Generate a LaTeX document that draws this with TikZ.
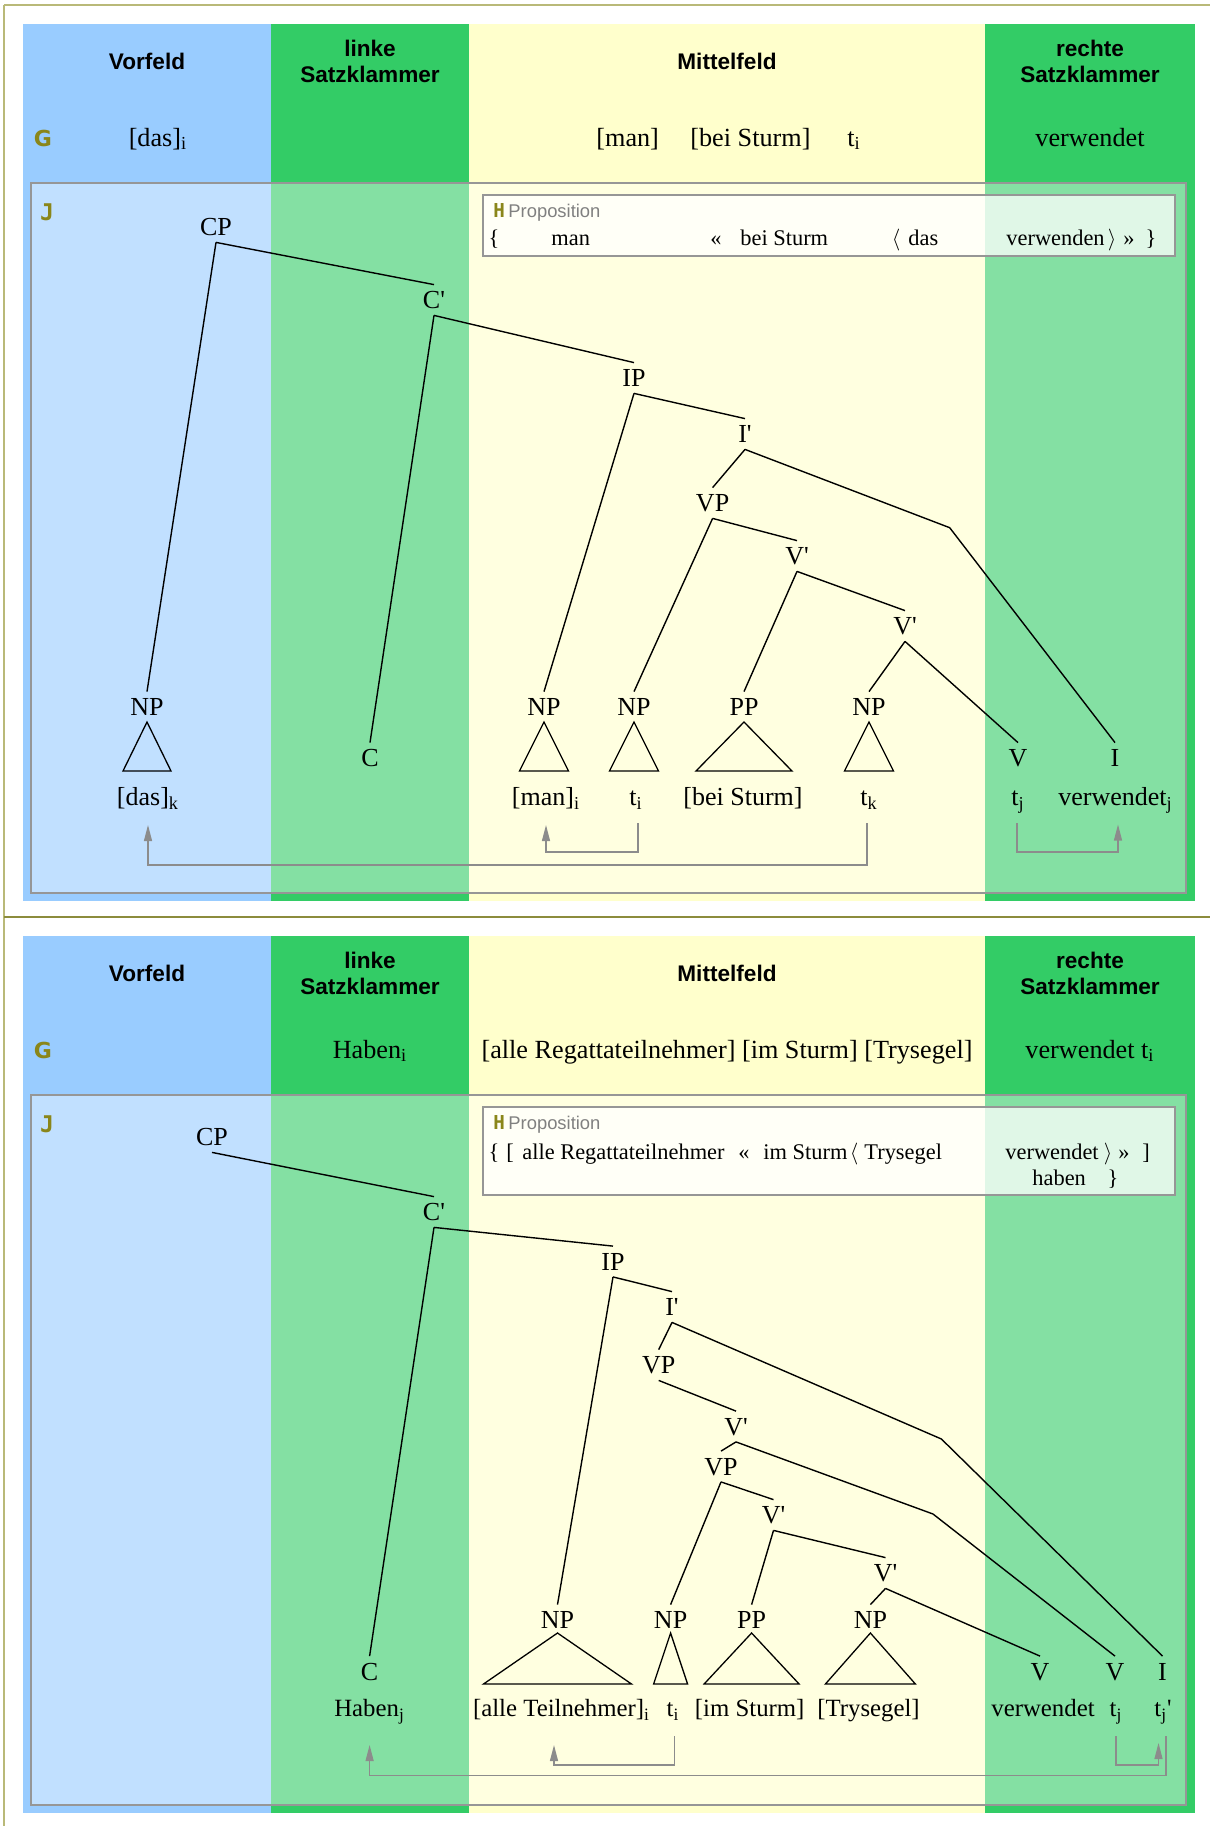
\documentclass[tikz,border=0pt]{standalone}
\usepackage{fontspec}
\setmainfont{Liberation Serif}
\newfontfamily\hdfont{Liberation Sans}
\newfontfamily\lblfont{DejaVu Sans Mono}
\newfontfamily\gfont{DejaVu Sans}
\usetikzlibrary{arrows.meta,calc}
\definecolor{vfblue}{HTML}{99CCFF}
\definecolor{skgreen}{HTML}{33CC66}
\definecolor{mfyellow}{HTML}{FFFFCC}
\definecolor{olivelbl}{RGB}{138,134,26}
\definecolor{frameol}{RGB}{185,185,120}
\definecolor{frameoltwo}{RGB}{140,140,60}
\definecolor{boxgray}{RGB}{150,150,150}
\definecolor{mvgray}{RGB}{140,140,140}
\definecolor{propgray}{RGB}{128,128,128}
\newcommand\sub[1]{\textsubscript{#1}}
\newcommand\pr{\textquotesingle}
\begin{document}
\begin{tikzpicture}[x=0.5pt,y=-0.5pt,
  hd/.style={font=\hdfont\bfseries\fontsize{11.3}{13}\selectfont, anchor=base, inner sep=0pt},
  gtxt/.style={font=\fontsize{13.1}{16}\selectfont, anchor=base, inner sep=0pt},
  lab/.style={font=\fontsize{13}{15}\selectfont, text height=8.6pt, text depth=0pt, inner xsep=1pt, inner ysep=3.2pt},
  leafA/.style={font=\fontsize{13}{15}\selectfont, anchor=base, inner sep=0pt},
  leafB/.style={font=\fontsize{12.4}{15}\selectfont, anchor=base, inner sep=0pt},
  ptxt/.style={font=\fontsize{11.2}{13}\selectfont, anchor=base west, inner sep=0pt},
  psym/.style={font=\fontsize{11.2}{13}\selectfont, anchor=base, inner sep=0pt},
  gletter/.style={font=\gfont\bfseries\fontsize{11}{12}\selectfont, text=olivelbl, inner sep=0pt, anchor=base},
  letter/.style={font=\lblfont\bfseries\fontsize{11.5}{12}\selectfont, text=olivelbl, inner sep=0pt, anchor=base},
  smallletter/.style={font=\lblfont\bfseries\fontsize{9.6}{10}\selectfont, text=olivelbl, inner sep=0pt, anchor=base west},
  proptitle/.style={font=\hdfont\fontsize{9.2}{11}\selectfont, text=propgray, inner sep=0pt, anchor=base west},
  branch/.style={draw=black, line width=0.7pt},
  tri/.style={draw=black, line width=0.65pt, line join=miter},
  mv/.style={draw=mvgray, line width=0.6pt, -{Triangle[length=8pt,width=4pt]}},
  jbox/.style={draw=boxgray, line width=0.75pt, fill=white, fill opacity=0.4},
  pbox/.style={draw=boxgray, line width=0.7pt, fill=white, fill opacity=0.75},
]
\useasboundingbox (0,0) rectangle (1210,1826);
\fill[white] (0,0) rectangle (1210,1826);

% ---------- backgrounds ----------
\foreach \oy in {0,912} {
  \fill[vfblue]   (23,24+\oy)  rectangle (271,901+\oy);
  \fill[skgreen]  (271,24+\oy) rectangle (469,901+\oy);
  \fill[mfyellow] (469,24+\oy) rectangle (985,901+\oy);
  \fill[skgreen]  (985,24+\oy) rectangle (1195,901+\oy);
}
\draw[jbox] (31,183) rectangle (1186,893);
\draw[jbox] (31,1095) rectangle (1186,1805);
\draw[pbox] (483,195) rectangle (1175,256);
\draw[pbox] (483,1107) rectangle (1175,1195);

% frame lines
\draw[frameol, line width=0.8pt] (4,5) -- (1210,5);
\draw[frameol, line width=0.8pt] (4,5) -- (4,1826);
\draw[frameoltwo, line width=0.8pt] (4,917) -- (1210,917);

% ---------- headers, diagram 1 ----------
\node[hd] (hA1) at (147,69) {Vorfeld};
\node[hd] (hA2) at (370,56) {linke};
\node[hd] (hA3) at (370,82) {Satzklammer};
\node[hd] (hA4) at (727,69) {Mittelfeld};
\node[hd] (hA5) at (1090,56) {rechte};
\node[hd] (hA6) at (1090,82) {Satzklammer};
\node[gletter] (gA) at (43,146) {G};
\node[letter] (jA) at (47,220) {J};
\node[gtxt] (gA1) at (158,146) {[das]\sub{i}};
\node[gtxt, anchor=base west] (gA2) at (596,146) {[man]};
\node[gtxt, anchor=base west] (gA3) at (690,146) {[bei Sturm]};
\node[gtxt, anchor=base west] (gA4) at (847,146) {t\sub{i}};
\node[gtxt] (gA5) at (1090,146) {verwendet};

% proposition 1
\node[smallletter] (hpA) at (493,217) {H};
\node[proptitle] (ptA) at (508,217) {Proposition};
\node[psym] (pA1) at (494,245) {\{};
\node[ptxt] (pA2) at (551,245) {man};
\node[psym] (pA3) at (716,245) {«};
\node[ptxt] (pA4) at (740,245) {bei Sturm};
\node[psym] (pA5) at (896,245) {$\langle$};
\node[ptxt] (pA6) at (908,245) {das};
\node[ptxt] (pA7) at (1006,245) {verwenden};
\node[psym] (pA8) at (1112,245) {$\rangle$};
\node[psym] (pA9) at (1129,245) {»};
\node[psym] (pA10) at (1151,245) {\}};

% ---------- tree 1 ----------
\node[lab] (cpA) at (216,227) {CP};
\node[lab] (cbA) at (434,300) {C\pr};
\node[lab] (ipA) at (634,378) {IP};
\node[lab] (ibA) at (745,434) {I\pr};
\node[lab] (vpA) at (712.6,503) {VP};
\node[lab] (vbA1) at (797,556) {V\pr};
\node[lab] (vbA2) at (905,626) {V\pr};
\node[lab] (npA1) at (147,707) {NP};
\node[lab] (cA) at (370,758) {C};
\node[lab] (npA2) at (544,707) {NP};
\node[lab] (npA3) at (634,707) {NP};
\node[lab] (ppA) at (744,707) {PP};
\node[lab] (npA4) at (869,707) {NP};
\node[lab] (vA) at (1018,758) {V};
\node[lab] (iA) at (1115,758) {I};
\coordinate (bendA) at (949.7,527.7);

\node[leafA] (lfA1) at (148,805.5) {[das]\sub{k}};
\node[leafA] (lfA2) at (546,805.5) {[man]\sub{i}};
\node[leafA] (lfA3) at (636,805.5) {t\sub{i}};
\node[leafA] (lfA4) at (743,805.5) {[bei Sturm]};
\node[leafA] (lfA5) at (869,805.5) {t\sub{k}};
\node[leafA] (lfA6) at (1018,805.5) {t\sub{j}};
\node[leafA] (lfA7) at (1115.5,805.5) {verwendet\sub{j}};

\draw[branch] (cpA.south) -- (npA1.north);
\draw[branch] (cpA.south) -- (cbA.north);
\draw[branch] (cbA.south) -- (cA.north);
\draw[branch] (cbA.south) -- (ipA.north);
\draw[branch] (ipA.south) -- (npA2.north);
\draw[branch] (ipA.south) -- (ibA.north);
\draw[branch] (ibA.south) -- (vpA.north);
\draw[branch] (ibA.south) -- (bendA) -- (iA.north);
\draw[branch] (vpA.south) -- (npA3.north);
\draw[branch] (vpA.south) -- (vbA1.north);
\draw[branch] (vbA1.south) -- (ppA.north);
\draw[branch] (vbA1.south) -- (vbA2.north);
\draw[branch] (vbA2.south) -- (npA4.north);
\draw[branch] (vbA2.south) -- (vA.north);

\draw[tri] (npA1.center) ++(0,15) -- ++(-24,49) -- ++(48,0) -- cycle;
\draw[tri] (npA2.center) ++(0,15) -- ++(-24.5,49) -- ++(49,0) -- cycle;
\draw[tri] (npA3.center) ++(0,15) -- ++(-24.5,49) -- ++(49,0) -- cycle;
\draw[tri] (ppA.center) ++(0,15) -- ++(-48,49) -- ++(96,0) -- cycle;
\draw[tri] (npA4.center) ++(0,15) -- ++(-24.5,49) -- ++(49,0) -- cycle;

\draw[mv] ($(lfA5.base)+(-2,17.5)$) -- ($(lfA5.base)+(-2,59.5)$) -| ($(lfA1.base)+(0,19.5)$);
\draw[mv] ($(lfA3.base)+(2,17.5)$) -- ($(lfA3.base)+(2,46.5)$) -| ($(lfA2.base)+(0,19.5)$);
\draw[mv] ($(lfA6.base)+(-1,17.5)$) -- ($(lfA6.base)+(-1,46.5)$) -| ($(lfA7.base)+(2.5,19)$);

% ---------- headers, diagram 2 ----------
\node[hd] (hB1) at (147,981) {Vorfeld};
\node[hd] (hB2) at (370,968) {linke};
\node[hd] (hB3) at (370,994) {Satzklammer};
\node[hd] (hB4) at (727,981) {Mittelfeld};
\node[hd] (hB5) at (1090,968) {rechte};
\node[hd] (hB6) at (1090,994) {Satzklammer};
\node[gletter] (gB) at (43,1058) {G};
\node[letter] (jB) at (47,1132) {J};
\node[gtxt] (gB1) at (370,1058) {Haben\sub{i}};
\node[gtxt] (gB2) at (727,1058) {[alle Regattateilnehmer] [im Sturm] [Trysegel]};
\node[gtxt] (gB3) at (1090,1058) {verwendet t\sub{i}};

% proposition 2
\node[smallletter] (hpB) at (493,1129) {H};
\node[proptitle] (ptB) at (508,1129) {Proposition};
\node[psym] (pB1) at (494,1159) {\{};
\node[psym] (pB2) at (510,1159) {[};
\node[ptxt] (pB3) at (522,1159) {alle Regattateilnehmer};
\node[psym] (pB4) at (744,1159) {«};
\node[ptxt] (pB5) at (763,1159) {im Sturm};
\node[psym] (pB6) at (854,1159) {$\langle$};
\node[ptxt] (pB7) at (864,1159) {Trysegel};
\node[ptxt] (pB8) at (1005,1159) {verwendet};
\node[psym] (pB9) at (1108,1159) {$\rangle$};
\node[psym] (pB10) at (1124,1159) {»};
\node[psym] (pB11) at (1146,1159) {]};
\node[ptxt] (pB12) at (1032,1185) {haben};
\node[psym] (pB13) at (1113,1185) {\}};

% ---------- tree 2 ----------
\node[lab] (cpB) at (212,1137) {CP};
\node[lab] (cbB) at (434,1212) {C\pr};
\node[lab] (ipB) at (613,1261.5) {IP};
\node[lab] (ibB) at (672,1307) {I\pr};
\node[lab] (vpB1) at (658.7,1365) {VP};
\node[lab] (vbB1) at (736,1426.5) {V\pr};
\node[lab] (vpB2) at (721,1466.5) {VP};
\node[lab] (vbB2) at (773.5,1515) {V\pr};
\node[lab] (vbB3) at (885.5,1573) {V\pr};
\node[lab] (npB1) at (557.5,1620) {NP};
\node[lab] (npB2) at (670.6,1620) {NP};
\node[lab] (ppB) at (751.6,1620) {PP};
\node[lab] (npB3) at (870.4,1620) {NP};
\node[lab] (cB) at (369.6,1671.5) {C};
\node[lab] (vB1) at (1040,1671.5) {V};
\node[lab] (vB2) at (1115,1671.5) {V};
\node[lab] (iB) at (1162.5,1671.5) {I};
\coordinate (bendB1) at (941.4,1439);
\coordinate (bendB2) at (933,1514);

\node[leafB] (lfB1) at (369.6,1716.5) {Haben\sub{j}};
\node[leafB] (lfB2) at (561.5,1716.5) {[alle Teilnehmer]\sub{i}};
\node[leafB] (lfB3) at (673,1716.5) {t\sub{i}};
\node[leafB] (lfB4) at (749.7,1716.5) {[im Sturm]};
\node[leafB] (lfB5) at (868.5,1716.5) {[Trysegel]};
\node[leafB] (lfB6) at (1043,1716.5) {verwendet};
\node[leafB] (lfB7) at (1116,1716.5) {t\sub{j}};
\node[leafB] (lfB8) at (1163,1716.5) {t\sub{j}\pr};

\draw[branch] (cpB.south) -- (cbB.north);
\draw[branch] (cbB.south) -- (cB.north);
\draw[branch] (cbB.south) -- (ipB.north);
\draw[branch] (ipB.south) -- (npB1.north);
\draw[branch] (ipB.south) -- (ibB.north);
\draw[branch] (ibB.south) -- (vpB1.north);
\draw[branch] (ibB.south) -- (bendB1) -- (iB.north);
\draw[branch] (vpB1.south) -- (vbB1.north);
\draw[branch] (vbB1.south) -- (vpB2.north);
\draw[branch] (vbB1.south) -- (bendB2) -- (vB2.north);
\draw[branch] (vpB2.south) -- (npB2.north);
\draw[branch] (vpB2.south) -- (vbB2.north);
\draw[branch] (vbB2.south) -- (ppB.north);
\draw[branch] (vbB2.south) -- (vbB3.north);
\draw[branch] (vbB3.south) -- (npB3.north);
\draw[branch] (vbB3.south) -- (vB1.north);

\draw[tri] (npB1.center) ++(0,13) -- ++(-74,51) -- ++(148,0) -- cycle;
\draw[tri] (npB2.center) ++(0,13) -- ++(-17,51) -- ++(34,0) -- cycle;
\draw[tri] (ppB.center) ++(0,13) -- ++(-47.5,51) -- ++(95,0) -- cycle;
\draw[tri] (npB3.center) ++(0,13) -- ++(-45,51) -- ++(90,0) -- cycle;

\draw[mv] ($(lfB3.base)+(1.5,19.5)$) -- ($(lfB3.base)+(1.5,48.5)$) -| ($(lfB2.base)+(-7.5,28.5)$);
\draw[mv] ($(lfB8.base)+(3,19.5)$) -- ($(lfB8.base)+(3,59)$) -| ($(lfB1.base)+(0,28.5)$);
\draw[mv] ($(lfB7.base)+(0,19.5)$) -- ($(lfB7.base)+(0,48.5)$) -| ($(lfB8.base)+(-4.5,26.5)$);
\end{tikzpicture}
\end{document}
